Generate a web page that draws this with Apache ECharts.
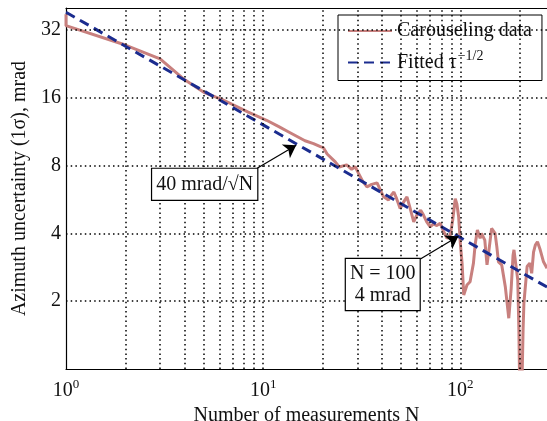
<!DOCTYPE html>
<html>
<head>
<meta charset="utf-8">
<script src="https://cdn.jsdelivr.net/npm/echarts@6/dist/echarts.min.js"></script>
<style>
html,body{margin:0;padding:0;background:#fff;}
#chart{width:547px;height:421px;}
</style>
</head>
<body>
<div id="chart"></div>
<script>
// ---- data ----
const measN = [1, 1, 2, 3, 4, 5, 6.2, 8.4, 10.4, 12, 13.4, 16.3, 18, 19.5, 20.2, 21.1, 23.2, 24.3, 26.5, 28.1, 29.3, 30.4, 32, 33.6, 35.5, 37.8, 38.5, 40.8, 43.2, 44.9, 46, 47.5, 49.5, 51.5, 53.6, 55.5, 58, 60, 62.9, 65, 67.5, 70.2, 73, 76, 79, 82, 85.6, 88.9, 91.5, 94.2, 96, 98, 100, 102, 104, 108, 112, 116.5, 119, 122, 126, 128, 133, 136.5, 139, 144, 150, 153, 156, 162, 169, 176, 181, 185, 187, 190, 195.5, 198, 200, 205, 208, 210, 218, 225, 230, 235, 240, 246, 254, 264, 275];
const measSigma = [37.5, 33.4, 27.4, 23.8, 19.2, 16.9, 15.7, 13.8, 12.7, 11.9, 11.3, 10.3, 10.0, 9.7, 9.6, 9.0, 8.3, 7.88, 8.05, 7.7, 7.9, 7.4, 6.8, 6.43, 6.6, 6.7, 6.6, 5.81, 5.62, 5.95, 6.1, 5.7, 5.16, 5.5, 5.81, 5.2, 4.5, 4.8, 5.07, 4.82, 4.5, 4.28, 4.4, 4.33, 4.43, 4.1, 3.8, 3.93, 4.6, 5.7, 5.4, 4.74, 3.6, 2.95, 2.13, 2.36, 2.44, 2.95, 3.6, 4.14, 3.8, 4.0, 3.73, 2.9, 3.26, 4.21, 4.0, 3.5, 2.99, 2.9, 2.32, 1.68, 2.28, 3.2, 3.38, 3.42, 2.48, 1.5, 0.8, 0.8, 1.5, 1.96, 2.85, 2.95, 2.66, 3.3, 3.55, 3.67, 3.38, 2.99, 2.8];
const fitN = [1, 275];
const fitSigma = [38.3, 2.31];
const seriesNames = ['Carouseling data', 'Fitted τ'];
const xMinorGrid = [2, 3, 4, 5, 6, 7, 8, 9, 10, 20, 30, 40, 50, 60, 70, 80, 90, 100, 200];
const yGrid = [2, 4, 8, 16, 32];
const annotTexts = ['40 mrad/√N', 'N = 100\n4 mrad'];

// ---- build ----
const measData = measN.map((n, i) => [n, measSigma[i]]);
const fitData = fitN.map((n, i) => [n, fitSigma[i]]);
const FONT = 'Liberation Serif';
const dotted = {color: '#000', width: 1.5, type: [1.5, 3.2]};

const chart = echarts.init(document.getElementById('chart'), null, {renderer: 'canvas'});
chart.setOption({
  animation: false,
  backgroundColor: '#fff',
  textStyle: {fontFamily: FONT},
  grid: {left: 66, right: 0, top: 8, bottom: 52, containLabel: false, outerBoundsMode: 'none'},
  legend: {
    orient: 'vertical', left: 338, top: 15,
    padding: [6, 10, 8, 9], itemGap: 8, itemWidth: 44, itemHeight: 14,
    backgroundColor: '#fff', borderColor: '#000', borderWidth: 1,
    data: seriesNames,
    itemStyle: {opacity: 0},
    textStyle: {fontFamily: FONT, fontSize: 20, color: '#111',
      rich: {sup: {fontFamily: FONT, fontSize: 14, verticalAlign: 'bottom', padding: [0, 0, 13, 1], color: '#111'}}},
    formatter: name => name === seriesNames[1] ? name + '{sup|−1/2}' : name
  },
  xAxis: [{
    type: 'log', logBase: 10, min: 1, max: 275,
    name: 'Number of measurements N', nameLocation: 'middle', nameGap: 32,
    nameTextStyle: {fontFamily: FONT, fontSize: 20, color: '#111'},
    axisLine: {show: true, lineStyle: {color: '#000', width: 1.2}},
    axisTick: {show: false},
    splitLine: {show: false},
    axisLabel: {
      showMaxLabel: false, margin: 9, fontFamily: FONT, fontSize: 20, color: '#111',
      formatter: v => '10{sup|' + Math.round(Math.log10(v)) + '}',
      rich: {sup: {fontFamily: FONT, fontSize: 13, verticalAlign: 'bottom', padding: [0, 0, 12, 0], color: '#111'}}
    }
  }, {
    type: 'log', logBase: 10, min: 1, max: 275, position: 'top',
    axisLine: {show: true, onZero: false, lineStyle: {color: '#000', width: 1.2}},
    axisTick: {show: false}, axisLabel: {show: false}, splitLine: {show: false}
  }],
  yAxis: {
    type: 'log', logBase: 2, min: 1, max: 40,
    name: 'Azimuth uncertainty (1σ), mrad', nameLocation: 'middle', nameGap: 25,
    nameTextStyle: {fontFamily: FONT, fontSize: 20, color: '#111'},
    axisLine: {show: true, lineStyle: {color: '#000', width: 1.2}},
    axisTick: {show: false},
    splitLine: {show: false},
    axisLabel: {showMinLabel: false, showMaxLabel: false, margin: 5, fontFamily: FONT, fontSize: 20, color: '#111'}
  },
  series: [
    {
      name: 'grid', type: 'line', data: [], z: 1, silent: true,
      markLine: {
        silent: true, symbol: 'none', label: {show: false}, animation: false,
        lineStyle: dotted, emphasis: {disabled: true},
        data: xMinorGrid.map(v => ({xAxis: v})).concat(yGrid.map(v => ({yAxis: v})))
      }
    },
    {
      name: seriesNames[0], type: 'line', data: measData, z: 3,
      showSymbol: false, symbol: 'none', clip: true,
      lineStyle: {color: '#C8807E', width: 3}, itemStyle: {color: '#C8807E'}
    },
    {
      name: seriesNames[1], type: 'line', data: fitData, z: 4,
      showSymbol: false, symbol: 'none', clip: true,
      lineStyle: {color: '#1B2C8F', width: 3, type: [10, 6]}, itemStyle: {color: '#1B2C8F'}
    },
    {
      name: 'annot', type: 'line', data: [], z: 6, silent: true,
      markLine: {
        silent: true, symbol: ['none', 'arrow'], symbolSize: 12, label: {show: false},
        lineStyle: {color: '#000', width: 1.2, type: 'solid'}, emphasis: {disabled: true},
        data: [
          [{coord: [9.32, 7.78]}, {coord: [14.7, 9.84]}],
          [{coord: [62.7, 3.08]}, {coord: [97.7, 3.88]}]
        ]
      },
      markPoint: {
        silent: true, symbol: 'rect', symbolSize: 1, itemStyle: {color: 'rgba(0,0,0,0)'},
        label: {
          show: true, position: 'inside', formatter: '{b}',
          fontFamily: FONT, fontSize: 20, color: '#111', lineHeight: 22,
          backgroundColor: '#fff', borderColor: '#000', borderWidth: 1.2, padding: [5, 4, 4, 4]
        },
        data: [
          {name: annotTexts[0], coord: [5.05, 6.6]},
          {name: annotTexts[1], coord: [40.4, 2.37], label: {padding: [4, 4, 3, 4], lineHeight: 22}}
        ]
      }
    }
  ]
});
</script>
</body>
</html>
